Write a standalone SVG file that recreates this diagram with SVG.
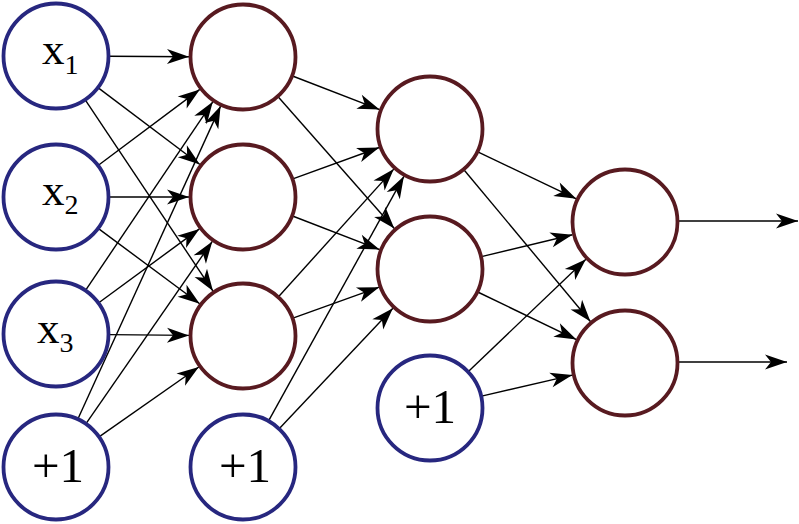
<svg xmlns="http://www.w3.org/2000/svg" width="799" height="524" viewBox="0 0 799 524">
<defs>
<style>
.in{fill:#fff;stroke:#27277f;stroke-width:3.8}
.hid{fill:#fff;stroke:#581a20;stroke-width:3.8}
.lbl{font-family:"Liberation Serif","Times New Roman","DejaVu Serif",serif;font-size:45px;fill:#000}
.one{font-size:49px;text-anchor:middle}
.sub{font-size:28px}
#edges line{stroke:#000;stroke-width:1.4;marker-end:url(#ah)}
</style>
<marker id="ah" markerUnits="userSpaceOnUse" markerWidth="24" markerHeight="16" refX="22" refY="8" orient="auto" overflow="visible">
<path d="M0,0.5 L22,8 L0,15.5 L6,8 Z" fill="#000"/>
</marker>
</defs>
<rect width="799" height="524" fill="#fff"/>
<g id="edges">
<line x1="109" y1="56.3" x2="189" y2="56.7"/>
<line x1="98.3" y1="87.9" x2="199.9" y2="164.5"/>
<line x1="85.4" y1="100.1" x2="213" y2="291.1"/>
<line x1="98.4" y1="165.2" x2="199.8" y2="89.4"/>
<line x1="109" y1="197" x2="189" y2="197"/>
<line x1="98.5" y1="228.6" x2="199.7" y2="303.8"/>
<line x1="85.7" y1="290.1" x2="212.8" y2="101.8"/>
<line x1="98.8" y1="302.7" x2="199.4" y2="228.9"/>
<line x1="109" y1="334.6" x2="189" y2="335.4"/>
<line x1="78" y1="418.8" x2="220.6" y2="106.1"/>
<line x1="86.2" y1="423.4" x2="212.3" y2="241.4"/>
<line x1="99.4" y1="436.6" x2="198.8" y2="367"/>
<line x1="292.5" y1="76" x2="379.6" y2="109.6"/>
<line x1="278.1" y1="96.7" x2="394.3" y2="228.5"/>
<line x1="292.8" y1="178.9" x2="379.3" y2="147.5"/>
<line x1="292.5" y1="216" x2="379.6" y2="249.6"/>
<line x1="278.5" y1="296.7" x2="393.8" y2="169.1"/>
<line x1="292.9" y1="318.1" x2="379.2" y2="287.2"/>
<line x1="268.7" y1="420.6" x2="403.9" y2="176.3"/>
<line x1="279.4" y1="428.5" x2="392.9" y2="308.3"/>
<line x1="477.8" y1="151.8" x2="576.3" y2="198.8"/>
<line x1="463.9" y1="169.7" x2="590.4" y2="321.5"/>
<line x1="481.5" y1="256.6" x2="572.5" y2="234.7"/>
<line x1="477.7" y1="292" x2="576.4" y2="339.6"/>
<line x1="468.4" y1="371.4" x2="585.9" y2="259.3"/>
<line x1="481.6" y1="396.1" x2="572.4" y2="375.1"/>
<line x1="678" y1="221" x2="798" y2="221"/>
<line x1="678" y1="362" x2="787" y2="362"/>
</g>
<g id="x1"><circle class="in" cx="56" cy="56" r="52.5"/><text class="lbl" x="42" y="64">x<tspan class="sub" dy="10">1</tspan></text></g>
<g id="x2"><circle class="in" cx="56" cy="197" r="52.5"/><text class="lbl" x="42" y="205">x<tspan class="sub" dy="9">2</tspan></text></g>
<g id="x3"><circle class="in" cx="56" cy="334" r="52.5"/><text class="lbl" x="37" y="343">x<tspan class="sub" dy="9">3</tspan></text></g>
<g id="b1"><circle class="in" cx="56" cy="467" r="52.5"/><text class="lbl one" x="58" y="482">+1</text></g>
<g id="h1"><circle class="hid" cx="243" cy="57" r="52.5"/></g>
<g id="h2"><circle class="hid" cx="243" cy="197" r="52.5"/></g>
<g id="h3"><circle class="hid" cx="243" cy="336" r="52.5"/></g>
<g id="b2"><circle class="in" cx="243" cy="467" r="52.5"/><text class="lbl one" x="245" y="482">+1</text></g>
<g id="g1"><circle class="hid" cx="430" cy="129" r="52.5"/></g>
<g id="g2"><circle class="hid" cx="430" cy="269" r="52.5"/></g>
<g id="b3"><circle class="in" cx="430" cy="408" r="52.5"/><text class="lbl one" x="430" y="423">+1</text></g>
<g id="o1"><circle class="hid" cx="625" cy="222" r="52.5"/></g>
<g id="o2"><circle class="hid" cx="625" cy="363" r="52.5"/></g>
</svg>
